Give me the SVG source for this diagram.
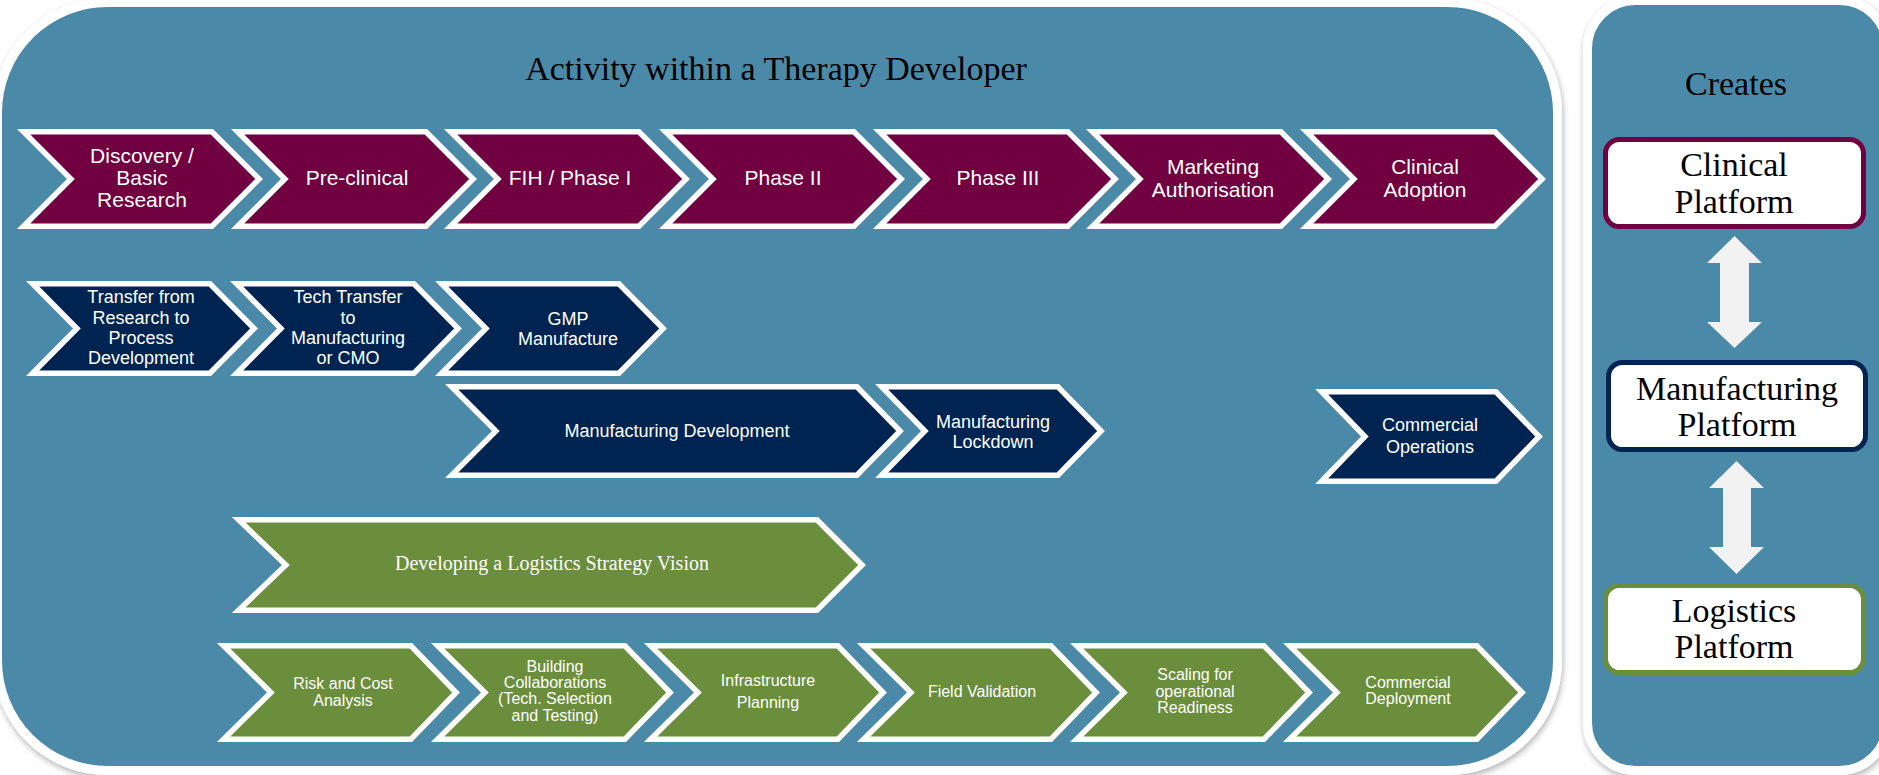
<svg xmlns="http://www.w3.org/2000/svg" xmlns:xlink="http://www.w3.org/1999/xlink" width="1879" height="775" viewBox="0 0 1879 775">
<style>
.panel{fill:#4B89A8;stroke:#FFFFFF;stroke-width:9;filter:url(#sh)}
.chev{stroke:#FFFFFF;stroke-width:5.5;stroke-linejoin:miter}
.m{fill:#700040}
.n{fill:#002451}
.g{fill:#6A8E3C}
.t{font-family:"Liberation Sans",Arial,sans-serif;fill:#FFFFFF;text-anchor:middle}
.t21{font-size:21px}
.t18{font-size:18px}
.t16{font-size:16px}
.s{font-family:"Liberation Serif","Times New Roman",serif;text-anchor:middle}
.head{font-size:34px;fill:#000000}
.plat{fill:#FFFFFF;stroke-width:5}
.arrow{fill:#F2F2F2}
</style>
<defs>
<filter id="sh" x="-5%" y="-5%" width="110%" height="110%">
<feDropShadow dx="1" dy="3" stdDeviation="3" flood-color="#000000" flood-opacity="0.3"/>
</filter>
<polygon id="c1" points="6.6,2.75 194.9,2.75 242.1,50 194.9,97.25 6.6,97.25 53.9,50"/>
<polygon id="c2" points="6.6,2.75 183.9,2.75 228.1,47.5 183.9,92.25 6.6,92.25 50.9,47.5"/>
<polygon id="c5" points="6.6,2.75 193.9,2.75 239.1,49.5 193.9,96.25 6.6,96.25 53.9,49.5"/>
</defs>

<g id="main-panel">
<rect class="panel" x="-2.5" y="2.5" width="1560" height="768" rx="110" ry="110"/>
<text class="s head" x="776" y="80">Activity within a Therapy Developer</text>
</g>
<g id="right-panel">
<rect class="panel" x="1587.5" y="0.5" width="300" height="770" rx="48" ry="48"/>
<text class="s head" x="1736" y="95">Creates</text>
</g>

<g id="discovery"><use xlink:href="#c1" class="chev m" x="17" y="129"/>
<text class="t t21"><tspan x="142" y="163">Discovery /</tspan><tspan x="142" y="185">Basic</tspan><tspan x="142" y="207">Research</tspan></text></g>
<g id="preclinical"><use xlink:href="#c1" class="chev m" x="231" y="129"/>
<text class="t t21" x="357" y="185">Pre-clinical</text></g>
<g id="fih"><use xlink:href="#c1" class="chev m" x="444" y="129"/>
<text class="t t21" x="570" y="185">FIH / Phase I</text></g>
<g id="phase2"><use xlink:href="#c1" class="chev m" x="659" y="129"/>
<text class="t t21" x="783" y="185">Phase II</text></g>
<g id="phase3"><use xlink:href="#c1" class="chev m" x="873" y="129"/>
<text class="t t21" x="998" y="185">Phase III</text></g>
<g id="marketing"><use xlink:href="#c1" class="chev m" x="1086" y="129"/>
<text class="t t21"><tspan x="1213" y="174">Marketing</tspan><tspan x="1213" y="197">Authorisation</tspan></text></g>
<g id="adoption"><use xlink:href="#c1" class="chev m" x="1300" y="129"/>
<text class="t t21"><tspan x="1425" y="174">Clinical</tspan><tspan x="1425" y="197">Adoption</tspan></text></g>

<g id="transfer"><use xlink:href="#c2" class="chev n" x="26" y="281"/>
<text class="t t18"><tspan x="141" y="303">Transfer from</tspan><tspan x="141" y="324">Research to</tspan><tspan x="141" y="344">Process</tspan><tspan x="141" y="364">Development</tspan></text></g>
<g id="techtransfer"><use xlink:href="#c2" class="chev n" x="230" y="281"/>
<text class="t t18"><tspan x="348" y="303">Tech Transfer</tspan><tspan x="348" y="324">to</tspan><tspan x="348" y="344">Manufacturing</tspan><tspan x="348" y="364">or CMO</tspan></text></g>
<g id="gmp"><use xlink:href="#c2" class="chev n" x="435" y="281"/>
<text class="t t18"><tspan x="568" y="325">GMP</tspan><tspan x="568" y="345">Manufacture</tspan></text></g>

<g id="mfgdev"><polygon class="chev n" transform="translate(445,384)" points="6.6,2.75 411.9,2.75 455.1,47 411.9,91.25 6.6,91.25 50.9,47"/>
<text class="t t18" x="677" y="437">Manufacturing Development</text></g>
<g id="lockdown"><polygon class="chev n" transform="translate(875,384)" points="6.6,2.75 182.9,2.75 226.1,47 182.9,91.25 6.6,91.25 49.9,47"/>
<text class="t t18"><tspan x="993" y="428">Manufacturing</tspan><tspan x="993" y="448">Lockdown</tspan></text></g>
<g id="commops"><polygon class="chev n" transform="translate(1315,389)" points="6.6,2.75 180.9,2.75 224.1,47.5 180.9,92.25 6.6,92.25 49.9,47.5"/>
<text class="t t18"><tspan x="1430" y="431">Commercial</tspan><tspan x="1430" y="453">Operations</tspan></text></g>

<g id="logvision"><polygon class="chev g" transform="translate(232,517)" points="6.6,2.75 584.9,2.75 630.1,48 584.9,93.25 6.6,93.25 53.9,48"/>
<text class="s" x="552" y="570" font-size="20" fill="#FFFFFF">Developing a Logistics Strategy Vision</text></g>

<g id="risk"><use xlink:href="#c5" class="chev g" x="217" y="643"/>
<text class="t t16"><tspan x="343" y="689">Risk and Cost</tspan><tspan x="343" y="706">Analysis</tspan></text></g>
<g id="building"><use xlink:href="#c5" class="chev g" x="431" y="643"/>
<text class="t t16"><tspan x="555" y="672">Building</tspan><tspan x="555" y="688">Collaborations</tspan><tspan x="555" y="704">(Tech. Selection</tspan><tspan x="555" y="721">and Testing)</tspan></text></g>
<g id="infra"><use xlink:href="#c5" class="chev g" x="644" y="643"/>
<text class="t t16"><tspan x="768" y="686">Infrastructure</tspan><tspan x="768" y="708">Planning</tspan></text></g>
<g id="field"><use xlink:href="#c5" class="chev g" x="857" y="643"/>
<text class="t t16" x="982" y="697">Field Validation</text></g>
<g id="scaling"><use xlink:href="#c5" class="chev g" x="1070" y="643"/>
<text class="t t16"><tspan x="1195" y="680">Scaling for</tspan><tspan x="1195" y="697">operational</tspan><tspan x="1195" y="713">Readiness</tspan></text></g>
<g id="deployment"><use xlink:href="#c5" class="chev g" x="1283" y="643"/>
<text class="t t16"><tspan x="1408" y="688">Commercial</tspan><tspan x="1408" y="704">Deployment</tspan></text></g>

<g id="clinical-platform"><rect class="plat" x="1605.5" y="139.5" width="258" height="87" rx="14" stroke="#700040"/>
<text class="s head"><tspan x="1734" y="176">Clinical</tspan><tspan x="1734" y="213">Platform</tspan></text></g>
<g id="manufacturing-platform"><rect class="plat" x="1608.5" y="362.5" width="257" height="87" rx="14" stroke="#002451"/>
<text class="s head"><tspan x="1737" y="400">Manufacturing</tspan><tspan x="1737" y="436">Platform</tspan></text></g>
<g id="logistics-platform"><rect class="plat" x="1605.5" y="585.5" width="258" height="87" rx="14" stroke="#6A8E3C"/>
<text class="s head"><tspan x="1734" y="622">Logistics</tspan><tspan x="1734" y="658">Platform</tspan></text></g>

<g id="connectors">
<path class="arrow" d="M1734.5,236 L1762,263 L1749,263 L1749,322 L1762,322 L1734.5,348 L1707,322 L1720,322 L1720,263 L1707,263 Z"/>
<path class="arrow" d="M1736.5,461 L1764,488 L1751,488 L1751,547 L1764,547 L1736.5,574 L1709,547 L1723,547 L1723,488 L1709,488 Z"/>
</g>
</svg>
